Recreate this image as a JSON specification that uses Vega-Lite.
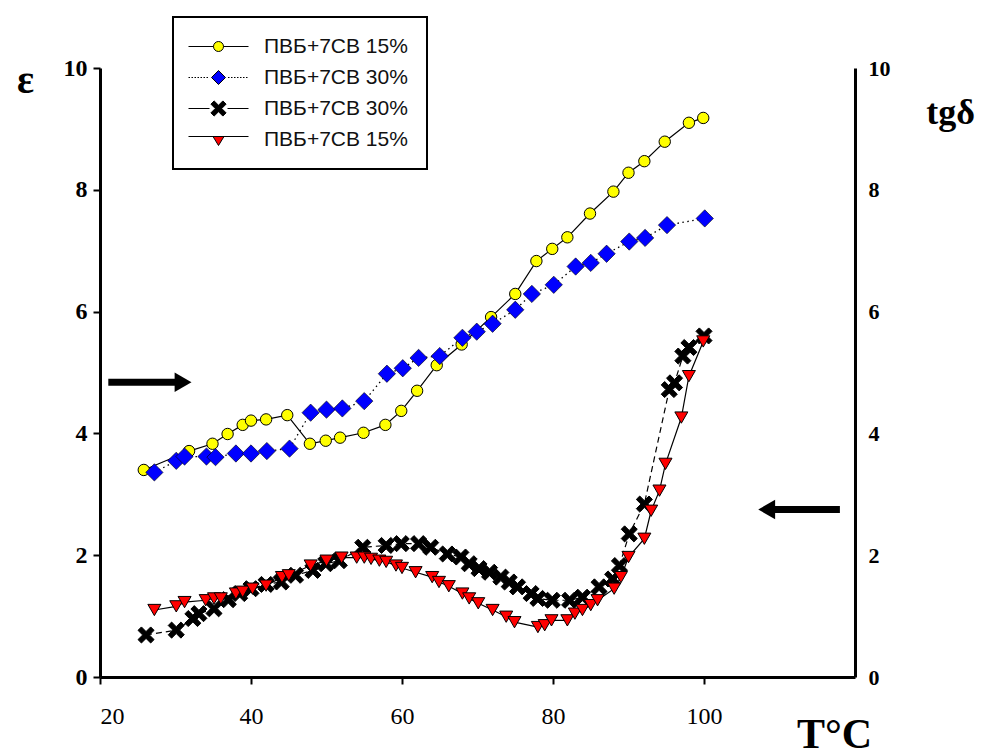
{
  "$schema": "https://vega.github.io/schema/vega-lite/v6.json",
  "autosize": "none",
  "width": 755,
  "height": 609,
  "padding": {"left": 100, "top": 68, "right": 127, "bottom": 75},
  "background": "white",
  "datasets": {
    "series": [
      {"s": "e15", "T": 25.8, "v": 3.40}, {"s": "e15", "T": 31.8, "v": 3.71}, {"s": "e15", "T": 34.9, "v": 3.83}, {"s": "e15", "T": 36.9, "v": 3.99}, {"s": "e15", "T": 38.9, "v": 4.14}, {"s": "e15", "T": 40.0, "v": 4.21}, {"s": "e15", "T": 42.0, "v": 4.23}, {"s": "e15", "T": 44.8, "v": 4.30}, {"s": "e15", "T": 47.8, "v": 3.83}, {"s": "e15", "T": 49.9, "v": 3.88}, {"s": "e15", "T": 51.8, "v": 3.93}, {"s": "e15", "T": 54.9, "v": 4.01}, {"s": "e15", "T": 57.8, "v": 4.14}, {"s": "e15", "T": 59.9, "v": 4.37}, {"s": "e15", "T": 62.0, "v": 4.70}, {"s": "e15", "T": 64.6, "v": 5.12}, {"s": "e15", "T": 67.9, "v": 5.46}, {"s": "e15", "T": 71.8, "v": 5.91}, {"s": "e15", "T": 75.0, "v": 6.29}, {"s": "e15", "T": 77.8, "v": 6.83}, {"s": "e15", "T": 79.9, "v": 7.03}, {"s": "e15", "T": 81.9, "v": 7.22}, {"s": "e15", "T": 84.9, "v": 7.61}, {"s": "e15", "T": 88.0, "v": 7.97}, {"s": "e15", "T": 90.0, "v": 8.28}, {"s": "e15", "T": 92.1, "v": 8.47}, {"s": "e15", "T": 94.8, "v": 8.79}, {"s": "e15", "T": 98.0, "v": 9.10}, {"s": "e15", "T": 99.9, "v": 9.18},
      {"s": "e30", "T": 27.2, "v": 3.36}, {"s": "e30", "T": 30.1, "v": 3.55}, {"s": "e30", "T": 31.2, "v": 3.62}, {"s": "e30", "T": 34.1, "v": 3.62}, {"s": "e30", "T": 35.3, "v": 3.61}, {"s": "e30", "T": 38.0, "v": 3.67}, {"s": "e30", "T": 40.0, "v": 3.67}, {"s": "e30", "T": 42.1, "v": 3.71}, {"s": "e30", "T": 45.1, "v": 3.75}, {"s": "e30", "T": 47.9, "v": 4.34}, {"s": "e30", "T": 50.0, "v": 4.39}, {"s": "e30", "T": 52.1, "v": 4.41}, {"s": "e30", "T": 55.0, "v": 4.53}, {"s": "e30", "T": 58.0, "v": 4.98}, {"s": "e30", "T": 60.1, "v": 5.07}, {"s": "e30", "T": 62.2, "v": 5.24}, {"s": "e30", "T": 65.0, "v": 5.27}, {"s": "e30", "T": 68.0, "v": 5.57}, {"s": "e30", "T": 69.9, "v": 5.67}, {"s": "e30", "T": 72.0, "v": 5.80}, {"s": "e30", "T": 75.0, "v": 6.03}, {"s": "e30", "T": 77.2, "v": 6.29}, {"s": "e30", "T": 80.1, "v": 6.44}, {"s": "e30", "T": 83.0, "v": 6.74}, {"s": "e30", "T": 85.0, "v": 6.80}, {"s": "e30", "T": 87.1, "v": 6.95}, {"s": "e30", "T": 90.1, "v": 7.15}, {"s": "e30", "T": 92.2, "v": 7.21}, {"s": "e30", "T": 95.1, "v": 7.42}, {"s": "e30", "T": 100.1, "v": 7.53},
      {"s": "t30", "T": 26.1, "v": 0.69}, {"s": "t30", "T": 30.1, "v": 0.77}, {"s": "t30", "T": 32.3, "v": 0.96}, {"s": "t30", "T": 33.1, "v": 1.04}, {"s": "t30", "T": 35.1, "v": 1.12}, {"s": "t30", "T": 37.0, "v": 1.27}, {"s": "t30", "T": 38.5, "v": 1.37}, {"s": "t30", "T": 40.0, "v": 1.45}, {"s": "t30", "T": 42.0, "v": 1.52}, {"s": "t30", "T": 44.0, "v": 1.56}, {"s": "t30", "T": 45.9, "v": 1.67}, {"s": "t30", "T": 48.2, "v": 1.75}, {"s": "t30", "T": 49.9, "v": 1.86}, {"s": "t30", "T": 51.7, "v": 1.91}, {"s": "t30", "T": 54.8, "v": 2.13}, {"s": "t30", "T": 57.9, "v": 2.16}, {"s": "t30", "T": 59.9, "v": 2.19}, {"s": "t30", "T": 62.2, "v": 2.19}, {"s": "t30", "T": 63.8, "v": 2.13}, {"s": "t30", "T": 66.0, "v": 2.02}, {"s": "t30", "T": 67.8, "v": 1.97}, {"s": "t30", "T": 68.9, "v": 1.86}, {"s": "t30", "T": 70.2, "v": 1.78}, {"s": "t30", "T": 71.6, "v": 1.72}, {"s": "t30", "T": 73.1, "v": 1.64}, {"s": "t30", "T": 74.2, "v": 1.56}, {"s": "t30", "T": 75.3, "v": 1.48}, {"s": "t30", "T": 77.1, "v": 1.37}, {"s": "t30", "T": 78.0, "v": 1.29}, {"s": "t30", "T": 79.9, "v": 1.26}, {"s": "t30", "T": 82.2, "v": 1.26}, {"s": "t30", "T": 83.9, "v": 1.31}, {"s": "t30", "T": 86.1, "v": 1.48}, {"s": "t30", "T": 87.9, "v": 1.61}, {"s": "t30", "T": 88.8, "v": 1.83}, {"s": "t30", "T": 90.1, "v": 2.35}, {"s": "t30", "T": 92.1, "v": 2.84}, {"s": "t30", "T": 95.4, "v": 4.72}, {"s": "t30", "T": 96.1, "v": 4.83}, {"s": "t30", "T": 97.2, "v": 5.27}, {"s": "t30", "T": 98.0, "v": 5.41}, {"s": "t30", "T": 100.0, "v": 5.60},
      {"s": "t15", "T": 27.2, "v": 1.10}, {"s": "t15", "T": 30.1, "v": 1.16}, {"s": "t15", "T": 31.2, "v": 1.23}, {"s": "t15", "T": 34.0, "v": 1.26}, {"s": "t15", "T": 35.1, "v": 1.29}, {"s": "t15", "T": 36.0, "v": 1.29}, {"s": "t15", "T": 38.0, "v": 1.37}, {"s": "t15", "T": 38.9, "v": 1.40}, {"s": "t15", "T": 40.2, "v": 1.45}, {"s": "t15", "T": 42.0, "v": 1.50}, {"s": "t15", "T": 44.1, "v": 1.64}, {"s": "t15", "T": 45.0, "v": 1.67}, {"s": "t15", "T": 47.9, "v": 1.83}, {"s": "t15", "T": 50.0, "v": 1.91}, {"s": "t15", "T": 52.0, "v": 1.96}, {"s": "t15", "T": 54.0, "v": 1.96}, {"s": "t15", "T": 55.0, "v": 1.96}, {"s": "t15", "T": 55.9, "v": 1.94}, {"s": "t15", "T": 57.0, "v": 1.91}, {"s": "t15", "T": 57.9, "v": 1.89}, {"s": "t15", "T": 59.2, "v": 1.83}, {"s": "t15", "T": 60.0, "v": 1.79}, {"s": "t15", "T": 61.8, "v": 1.72}, {"s": "t15", "T": 64.0, "v": 1.64}, {"s": "t15", "T": 64.9, "v": 1.56}, {"s": "t15", "T": 66.2, "v": 1.49}, {"s": "t15", "T": 68.0, "v": 1.37}, {"s": "t15", "T": 68.9, "v": 1.29}, {"s": "t15", "T": 70.1, "v": 1.21}, {"s": "t15", "T": 72.0, "v": 1.10}, {"s": "t15", "T": 73.8, "v": 0.99}, {"s": "t15", "T": 74.9, "v": 0.90}, {"s": "t15", "T": 78.0, "v": 0.82}, {"s": "t15", "T": 78.9, "v": 0.85}, {"s": "t15", "T": 79.8, "v": 0.93}, {"s": "t15", "T": 81.9, "v": 0.93}, {"s": "t15", "T": 82.9, "v": 1.04}, {"s": "t15", "T": 83.9, "v": 1.10}, {"s": "t15", "T": 85.0, "v": 1.18}, {"s": "t15", "T": 85.9, "v": 1.26}, {"s": "t15", "T": 88.1, "v": 1.45}, {"s": "t15", "T": 89.0, "v": 1.64}, {"s": "t15", "T": 90.0, "v": 1.97}, {"s": "t15", "T": 92.1, "v": 2.27}, {"s": "t15", "T": 93.0, "v": 2.73}, {"s": "t15", "T": 94.1, "v": 3.06}, {"s": "t15", "T": 94.9, "v": 3.50}, {"s": "t15", "T": 97.0, "v": 4.26}, {"s": "t15", "T": 98.0, "v": 4.94}, {"s": "t15", "T": 99.9, "v": 5.51}
    ],
    "arrows": [
      {"dir": "right", "x1": 21.1, "x2": 30.0, "head": 31.0, "y": 4.84},
      {"dir": "left", "x1": 118.0, "x2": 109.3, "head": 108.3, "y": 2.75}
    ]
  },
  "layer": [
    {
      "layer": [
        {
          "data": {"name": "series"},
          "transform": [{"filter": "datum.s === 'e15'"}],
          "mark": {"type": "line", "color": "black", "strokeWidth": 1.2},
          "encoding": {
            "x": {"field": "T", "type": "quantitative", "scale": {"domain": [20, 120], "nice": false},
              "axis": {"values": [20, 40, 60, 80, 100], "format": "d", "grid": false, "domainColor": "black", "domainWidth": 3, "tickColor": "black", "tickWidth": 2, "tickSize": 7, "labelFont": "Liberation Serif", "labelFontSize": 24, "labelColor": "black", "labelPadding": 20, "labelBaseline": "top",
                "title": "T°C", "titleFont": "Liberation Serif", "titleFontSize": 42, "titleFontWeight": "bold", "titleColor": "black", "titleX": 734, "titleY": 70, "titleAlign": "center", "titleBaseline": "alphabetic"}},
            "y": {"field": "v", "type": "quantitative", "scale": {"domain": [0, 10], "nice": false},
              "axis": {"orient": "left", "values": [0, 2, 4, 6, 8, 10], "format": "d", "grid": false, "domainColor": "black", "domainWidth": 3, "tickColor": "black", "tickWidth": 2, "tickSize": 7, "labelFont": "Liberation Serif", "labelFontSize": 24, "labelFontWeight": "bold", "labelColor": "black", "labelPadding": 6,
                "title": "ε", "titleFont": "Liberation Serif", "titleFontSize": 40, "titleFontWeight": "bold", "titleColor": "black", "titleAngle": 0, "titleX": -75, "titleY": 12, "titleAlign": "center", "titleBaseline": "middle"}}
          }
        },
        {
          "data": {"name": "series"},
          "transform": [{"filter": "datum.s === 'e30'"}],
          "mark": {"type": "line", "color": "black", "strokeWidth": 1.3, "strokeDash": [1.5, 3.5]},
          "encoding": {
            "x": {"field": "T", "type": "quantitative"},
            "y": {"field": "v", "type": "quantitative"}
          }
        },
        {
          "data": {"name": "arrows"},
          "mark": {"type": "rule", "color": "black", "strokeWidth": 7},
          "encoding": {
            "x": {"field": "x1", "type": "quantitative"},
            "x2": {"field": "x2"},
            "y": {"field": "y", "type": "quantitative"}
          }
        },
        {
          "data": {"name": "arrows"},
          "transform": [{"filter": "datum.dir === 'right'"}],
          "mark": {"type": "point", "shape": "triangle-right", "filled": true, "color": "black", "opacity": 1, "size": 380},
          "encoding": {
            "x": {"field": "head", "type": "quantitative"},
            "y": {"field": "y", "type": "quantitative"}
          }
        },
        {
          "data": {"name": "arrows"},
          "transform": [{"filter": "datum.dir === 'left'"}],
          "mark": {"type": "point", "shape": "triangle-left", "filled": true, "color": "black", "opacity": 1, "size": 380},
          "encoding": {
            "x": {"field": "head", "type": "quantitative"},
            "y": {"field": "y", "type": "quantitative"}
          }
        },
        {
          "data": {"name": "series"},
          "transform": [{"filter": "datum.s === 'e15'"}],
          "mark": {"type": "point", "filled": true, "stroke": "black", "strokeWidth": 1, "opacity": 1, "size": 130},
          "encoding": {
            "x": {"field": "T", "type": "quantitative"},
            "y": {"field": "v", "type": "quantitative"},
            "fill": {"field": "s", "type": "nominal", "scale": {"domain": ["e15", "e30", "t30", "t15"], "range": ["#ffff00", "#0000ff", "#000000", "#ff0000"]}, "legend": null},
            "shape": {"field": "s", "type": "nominal", "scale": {"domain": ["e15", "e30", "t30", "t15"], "range": ["circle", "diamond", "M0.672,-1.167L1.167,-0.672L0.495,0L1.167,0.672L0.672,1.167L0,0.495L-0.672,1.167L-1.167,0.672L-0.495,0L-1.167,-0.672L-0.672,-1.167L0,-0.495Z", "triangle-down"]}, "legend": null}
          }
        },
        {
          "data": {"name": "series"},
          "transform": [{"filter": "datum.s === 'e30'"}],
          "mark": {"type": "point", "filled": true, "stroke": "black", "strokeWidth": 0.6, "opacity": 1, "size": 300},
          "encoding": {
            "x": {"field": "T", "type": "quantitative"},
            "y": {"field": "v", "type": "quantitative"},
            "fill": {"field": "s", "type": "nominal", "legend": null},
            "shape": {"field": "s", "type": "nominal", "legend": null}
          }
        }
      ]
    },
    {
      "layer": [
        {
          "data": {"name": "series"},
          "transform": [{"filter": "datum.s === 't30'"}],
          "mark": {"type": "line", "color": "black", "strokeWidth": 1.2, "strokeDash": [6, 4]},
          "encoding": {
            "x": {"field": "T", "type": "quantitative"},
            "y": {"field": "v", "type": "quantitative", "scale": {"domain": [0, 10], "nice": false},
              "axis": {"orient": "right", "values": [0, 2, 4, 6, 8, 10], "format": "d", "grid": false, "domainColor": "black", "domainWidth": 3, "ticks": false, "labelFont": "Liberation Serif", "labelFontSize": 22, "labelFontWeight": "bold", "labelColor": "black", "labelPadding": 13,
                "title": "tgδ", "titleFont": "Liberation Serif", "titleFontSize": 36, "titleFontWeight": "bold", "titleColor": "black", "titleAngle": 0, "titleX": 95, "titleY": 44, "titleAlign": "center", "titleBaseline": "middle"}}
          }
        },
        {
          "data": {"name": "series"},
          "transform": [{"filter": "datum.s === 't15'"}],
          "mark": {"type": "line", "color": "black", "strokeWidth": 1.2},
          "encoding": {
            "x": {"field": "T", "type": "quantitative"},
            "y": {"field": "v", "type": "quantitative"}
          }
        },
        {
          "data": {"name": "series"},
          "transform": [{"filter": "datum.s === 't30'"}],
          "mark": {"type": "point", "filled": true, "stroke": "black", "strokeWidth": 1, "opacity": 1, "size": 190},
          "encoding": {
            "x": {"field": "T", "type": "quantitative"},
            "y": {"field": "v", "type": "quantitative"},
            "fill": {"field": "s", "type": "nominal", "scale": {"domain": ["e15", "e30", "t30", "t15"], "range": ["#ffff00", "#0000ff", "#000000", "#ff0000"]}, "legend": null},
            "shape": {"field": "s", "type": "nominal", "scale": {"domain": ["e15", "e30", "t30", "t15"], "range": ["circle", "diamond", "M0.672,-1.167L1.167,-0.672L0.495,0L1.167,0.672L0.672,1.167L0,0.495L-0.672,1.167L-1.167,0.672L-0.495,0L-1.167,-0.672L-0.672,-1.167L0,-0.495Z", "triangle-down"]}, "legend": null}
          }
        },
        {
          "data": {"name": "series"},
          "transform": [{"filter": "datum.s === 't15'"}],
          "mark": {"type": "point", "filled": true, "stroke": "black", "strokeWidth": 1, "opacity": 1, "size": 170},
          "encoding": {
            "x": {"field": "T", "type": "quantitative"},
            "y": {"field": "v", "type": "quantitative"},
            "fill": {"field": "s", "type": "nominal", "legend": null},
            "shape": {"field": "s", "type": "nominal", "legend": null}
          }
        }
      ]
    },
    {
      "data": {"name": "series"},
      "transform": [{"filter": "datum.T > 1000"}],
      "mark": {"type": "point", "filled": true, "stroke": "black", "strokeWidth": 1, "opacity": 1},
      "encoding": {
        "fill": {"field": "s", "type": "nominal", "scale": {"domain": ["e15", "e30", "t30", "t15"], "range": ["#ffff00", "#0000ff", "#000000", "#ff0000"]},
          "legend": {
            "orient": "none", "legendX": 73, "legendY": -51, "title": null,
            "padding": 19, "strokeColor": "black", "fillColor": "white",
            "labelFont": "Liberation Sans", "labelFontSize": 21, "labelColor": "#111",
            "symbolSize": 100, "symbolOffset": 16, "labelOffset": 35, "rowPadding": 9,
            "symbolStrokeColor": "black", "symbolStrokeWidth": 1,
            "labelExpr": "datum.value === 'e15' || datum.value === 't15' ? 'ПВБ+7СВ 15%' : 'ПВБ+7СВ 30%'"
          }},
        "shape": {"field": "s", "type": "nominal", "scale": {"domain": ["e15", "e30", "t30", "t15"], "range": [
          "M-6,0H-1M1,0H6M-1,0A1,1,0,1,0,1,0A1,1,0,1,0,-1,0Z",
          "M-6,0H-5.7M-5.4,0H-5.1M-4.8,0H-4.5M-4.2,0H-3.9M-3.6,0H-3.3M-3,0H-2.7M-2.4,0H-2.1M1.9,0H2.2M2.5,0H2.8M3.1,0H3.4M3.7,0H4M4.3,0H4.6M4.9,0H5.2M5.5,0H5.8M-1.4,0L0,-1.4L1.4,0L0,1.4Z",
          "M-6,0H-1.8M1.8,0H6M0.874,-1.517L1.517,-0.874L0.644,0L1.517,0.874L0.874,1.517L0,0.644L-0.874,1.517L-1.517,0.874L-0.644,0L-1.517,-0.874L-0.874,-1.517L0,-0.644Z",
          "M-6,-0.6H-1.1M1.1,-0.6H6M-1.1,-0.6L1.1,-0.6L0,1.2Z"
        ]}}
      }
    }
  ],
  "resolve": {"scale": {"y": "independent", "fill": "independent", "shape": "independent"}, "axis": {"y": "independent"}},
  "config": {
    "view": {"stroke": null},
    "legend": {"strokeWidth": 2}
  }
}
